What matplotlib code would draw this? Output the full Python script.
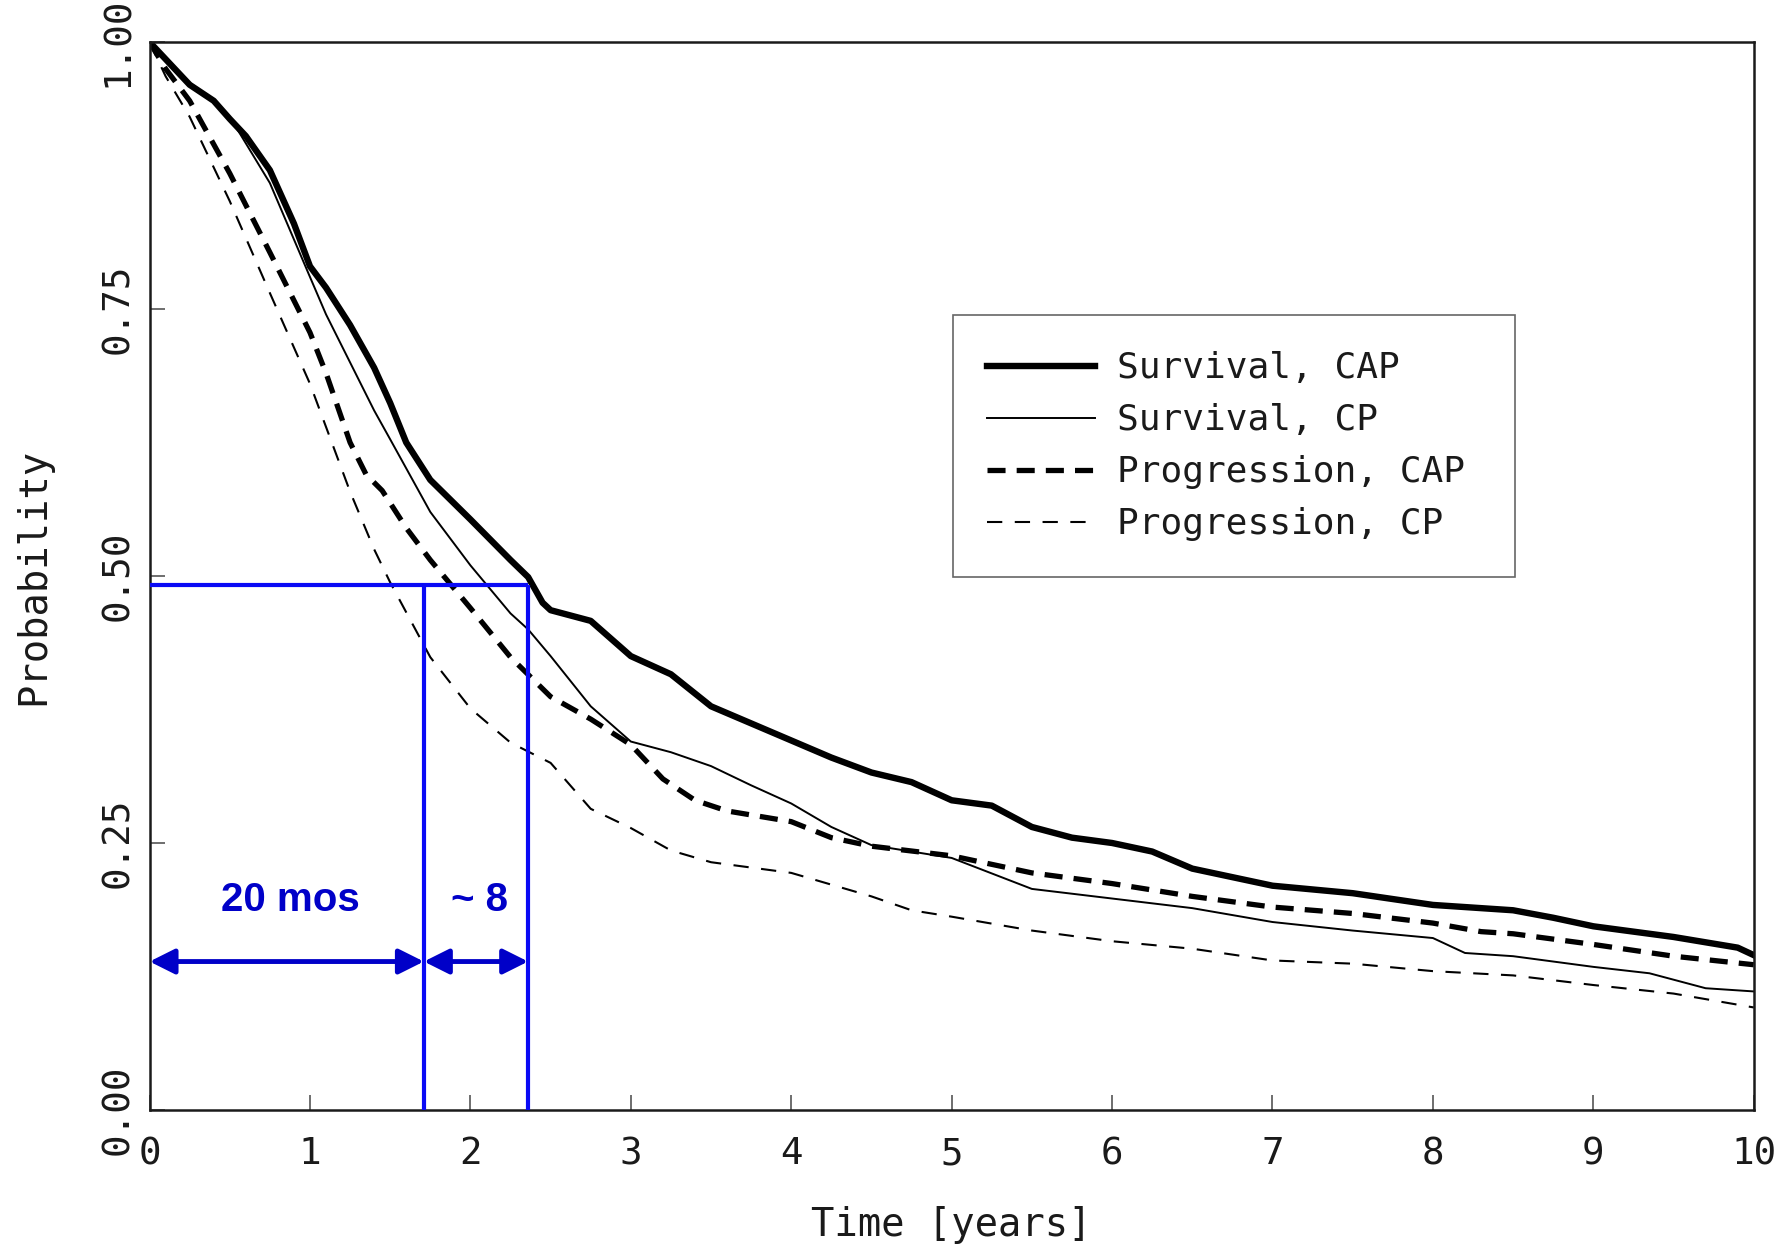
import matplotlib
matplotlib.use('Agg')
import matplotlib.pyplot as plt
from matplotlib.patches import Rectangle

# Kaplan-Meier style curves (time in years, probability)
surv_cap_t = [0, 0.1, 0.25, 0.4, 0.5, 0.6, 0.75, 0.9, 1.0, 1.1, 1.25, 1.4, 1.5, 1.6, 1.75,
              2.0, 2.25, 2.36, 2.45, 2.5, 2.75, 3.0, 3.25, 3.5, 3.75, 4.0, 4.25, 4.5, 4.75,
              5.0, 5.25, 5.5, 5.75, 6.0, 6.25, 6.5, 7.0, 7.5, 8.0, 8.5, 8.75, 9.0, 9.5, 9.9, 10.0]
surv_cap = [1.0, .984, .960, .945, .928, .912, .880, .830, .790, .770, .735, .695, .662, .625, .590,
            .553, .515, .499, .475, .468, .458, .425, .408, .378, .362, .346, .330, .316, .307,
            .290, .285, .265, .255, .250, .242, .226, .210, .203, .192, .187, .180, .172, .162, .152, .145]

surv_cp_t = [0, 0.1, 0.25, 0.4, 0.5, 0.75, 1.0, 1.1, 1.25, 1.4, 1.5, 1.75, 2.0, 2.25, 2.36, 2.5,
             2.75, 3.0, 3.25, 3.5, 3.75, 4.0, 4.25, 4.5, 5.0, 5.5, 6.0, 6.5, 7.0, 7.5, 8.0, 8.2,
             8.5, 9.0, 9.35, 9.7, 10.0]
surv_cp = [1.0, .982, .962, .945, .930, .868, .780, .745, .700, .655, .628, .560, .510, .465, .450, .425,
           .378, .345, .335, .322, .304, .287, .265, .248, .236, .207, .198, .189, .176, .168, .161, .147,
           .144, .134, .128, .114, .111]

prog_cap_t = [0, 0.1, 0.25, 0.5, 0.75, 1.0, 1.1, 1.25, 1.35, 1.45, 1.6, 1.75, 2.0, 2.25, 2.5, 2.75,
              3.0, 3.2, 3.4, 3.6, 4.0, 4.25, 4.5, 5.0, 5.5, 6.0, 6.5, 7.0, 7.5, 8.0, 8.3, 8.5, 9.0,
              9.5, 10.0]
prog_cap = [1.0, .975, .945, .877, .803, .728, .690, .625, .595, .580, .545, .515, .470, .424, .387, .366,
            .342, .310, .290, .280, .270, .255, .247, .238, .222, .212, .200, .190, .184, .175, .167, .165, .155,
            .144, .136]

prog_cp_t = [0, 0.1, 0.25, 0.5, 0.75, 1.0, 1.25, 1.4, 1.5, 1.75, 2.0, 2.25, 2.5, 2.75, 3.0, 3.25,
             3.5, 4.0, 4.25, 4.5, 4.75, 5.0, 5.5, 6.0, 6.5, 7.0, 7.5, 8.0, 8.5, 9.0, 9.5, 10.0]
prog_cp = [1.0, .968, .930, .851, .765, .680, .579, .525, .494, .424, .376, .344, .325, .282, .264, .243,
           .232, .222, .211, .200, .187, .181, .168, .158, .151, .140, .137, .130, .126, .117, .109, .096]

labels = ['Survival, CAP', 'Survival, CP', 'Progression, CAP', 'Progression, CP']

# median survival markers
median_level = 0.492
median_times = [1.71, 2.36]
arrow_level = 0.139
gap_labels = ['20 mos', '~ 8']

xticks = list(range(0, 11))
yticks = [0.0, 0.25, 0.5, 0.75, 1.0]
ytick_labels = ['0.00', '0.25', '0.50', '0.75', '1.00']

plt.rcParams['lines.scale_dashes'] = False
mono = 'DejaVu Sans Mono'
ink = '#1a1a1a'
blue = '#0a0af5'
dblue = '#0000c8'

fig = plt.figure(figsize=(17.89, 12.48), dpi=100)
ax = fig.add_axes([0.0836, 0.1106, 0.8967, 0.8557])

l1, = ax.plot(surv_cap_t, surv_cap, color='black', lw=4.6, solid_joinstyle='round')
l2, = ax.plot(surv_cp_t, surv_cp, color='black', lw=1.4)
l3, = ax.plot(prog_cap_t, prog_cap, color='black', lw=3.8, dashes=(13, 8))
l4, = ax.plot(prog_cp_t, prog_cp, color='black', lw=1.5, dashes=(11, 9))

# blue median guide lines
ax.hlines(median_level, 0, median_times[1], color=blue, lw=3, zorder=5)
ax.vlines(median_times, 0, median_level, color=blue, lw=3, zorder=5)

starts = [0] + median_times[:-1]
for x0, x1, txt in zip(starts, median_times, gap_labels):
    ax.annotate('', xy=(x0, arrow_level), xytext=(x1, arrow_level),
                arrowprops=dict(arrowstyle='<|-|>', color=dblue, lw=3.5,
                                mutation_scale=38, shrinkA=0, shrinkB=0), zorder=6)
    ax.text((x0 + x1) / 2 + 0.02, 0.197, txt, color=dblue, fontsize=29, fontweight='bold',
            family='Liberation Sans', ha='center', va='center')

ax.set_xlim(0, 10)
ax.set_ylim(0, 1)
ax.set_xticks(xticks)
ax.set_xticklabels([str(t) for t in xticks], family=mono, fontsize=27, color=ink)
ax.set_yticks(yticks)
ax.set_yticklabels(ytick_labels, family=mono, fontsize=27, color=ink, rotation=90, va='center')
ax.tick_params(axis='x', direction='in', length=11, width=1.2, pad=19, color='#555555')
ax.tick_params(axis='y', direction='in', length=11, width=1.2, pad=10, color='#555555')
for s in ax.spines.values():
    s.set_linewidth(1.8)
    s.set_color(ink)

ax.set_xlabel('Time [years]', family=mono, fontsize=28, color=ink, labelpad=24)
ax.set_ylabel('Probability', family=mono, fontsize=28, color=ink, labelpad=34)

# legend box drawn separately so the padding can differ vertically
ax.add_patch(Rectangle((0.501, 0.499), 0.35, 0.245, transform=ax.transAxes,
                       fill=False, ec='#666666', lw=1.2, zorder=7))
ax.legend([l1, l2, l3, l4], labels, loc='center', bbox_to_anchor=(0.671, 0.6215),
          frameon=False, prop={'family': mono, 'size': 26}, handlelength=3.0,
          handletextpad=0.6, labelspacing=0.5, labelcolor=ink)

fig.savefig('out.png', dpi=100)
